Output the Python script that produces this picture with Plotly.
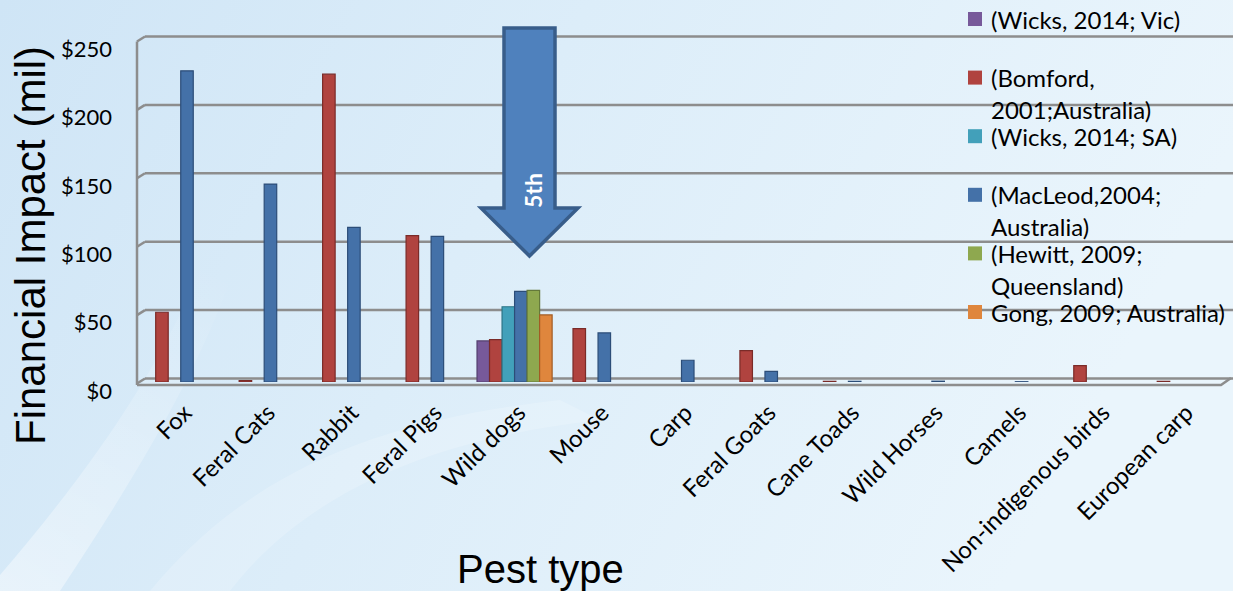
import base64
import plotly.graph_objects as go

# ---- data (millions of AUD) ----
categories = ["Fox", "Feral Cats", "Rabbit", "Feral Pigs", "Wild dogs", "Mouse", "Carp",
              "Feral Goats", "Cane Toads", "Wild Horses", "Camels", "Non-indigenous birds",
              "European carp"]
wicks_vic = [None, None, None, None, 30, None, None, None, None, None, None, None, None]
bomford = [51, 1, 225, 107, 31, 39, None, 23, 0.5, None, None, 12, 0.5]
wicks_sa = [None, None, None, None, 55, None, None, None, None, None, None, None, None]
macleod = [227.5, 144.7, 113.1, 106.5, 66.3, 35.9, 15.9, 7.8, 0.5, 0.6, 0.2, None, None]
hewitt = [None, None, None, None, 67, None, None, None, None, None, None, None, None]
gong = [None, None, None, None, 49, None, None, None, None, None, None, None, None]

series_names = [["(Wicks, 2014; Vic)"],
                ["(Bomford,", "2001;Australia)"],
                ["(Wicks, 2014; SA)"],
                ["(MacLeod,2004;", "Australia)"],
                ["(Hewitt, 2009;", "Queensland)"],
                ["Gong, 2009; Australia)"]]
series_values = [wicks_vic, bomford, wicks_sa, macleod, hewitt, gong]
series_colors = ["#77599a", "#b0433f", "#42a0ba", "#4471a8", "#8ea84f", "#df863d"]
series_edges = ["#55406f", "#7a2b28", "#2b7486", "#2c4d78", "#64793a", "#a25c24"]

y_ticks = [0, 50, 100, 150, 200, 250]
y_tick_text = ["$0", "$50", "$100", "$150", "$200", "$250"]

# ---- page geometry (pixels) ----
W, H = 1233, 591
L, R, T, B = 139, 9, 40, 209
PW, PH = W - L - R, H - T - B


def px(x):
    return (x - L) / PW


def py(y):
    return (H - B - y) / PH


fig = go.Figure()
for name, vals, col, edge in zip(series_names, series_values, series_colors, series_edges):
    fig.add_trace(go.Bar(
        x=categories, y=vals, name=" ".join(name),
        marker=dict(color=col, line=dict(color=edge, width=1.2)),
        showlegend=False,
    ))

# background: soft blue gradient with a pale swoosh
svg = f"""<svg xmlns='http://www.w3.org/2000/svg' width='{W}' height='{H}' viewBox='0 0 {W} {H}' preserveAspectRatio='none'>
<defs>
<linearGradient id='g' x1='0' y1='0' x2='1' y2='0.25'>
<stop offset='0' stop-color='#cfe5f6'/><stop offset='0.45' stop-color='#dcedf9'/><stop offset='1' stop-color='#eaf5fc'/>
</linearGradient>
<linearGradient id='s' x1='0' y1='1' x2='0.3' y2='0'>
<stop offset='0' stop-color='#ffffff' stop-opacity='0.45'/><stop offset='1' stop-color='#ffffff' stop-opacity='0'/>
</linearGradient>
</defs>
<rect width='{W}' height='{H}' fill='url(#g)'/>
<path d='M0,575 C90,470 170,360 215,230 C225,200 240,190 250,215 C220,340 140,470 60,591 L0,591 Z' fill='url(#s)'/>
<path d='M150,591 C250,470 380,420 560,400 L600,420 C420,440 300,500 230,591 Z' fill='#ffffff' opacity='0.18'/>
</svg>"""
bg_uri = "data:image/svg+xml;base64," + base64.b64encode(svg.encode()).decode()
fig.add_layout_image(dict(source=bg_uri, xref="paper", yref="paper",
                          x=px(0), y=py(0), sizex=W / PW, sizey=H / PH,
                          xanchor="left", yanchor="top", sizing="stretch", layer="below"))

shapes = []
grid_col = "#8d8d8d"
# back-wall gridlines and the small left wall
for v in y_ticks:
    yb = v / 250 + 3.5 / PH
    shapes.append(dict(type="line", xref="paper", yref="paper", x0=px(145), x1=px(1233),
                       y0=yb, y1=yb, line=dict(color=grid_col, width=2.5), layer="below"))
    shapes.append(dict(type="line", xref="paper", yref="paper", x0=px(137), x1=px(145),
                       y0=yb - 5 / PH, y1=yb, line=dict(color=grid_col, width=2.5), layer="below"))
shapes.append(dict(type="line", xref="paper", yref="paper", x0=px(137), x1=px(137),
                   y0=py(385), y1=1 + 3.5 / PH - 5 / PH, line=dict(color=grid_col, width=2.5), layer="below"))
# floor front edge
shapes.append(dict(type="path", xref="paper", yref="paper",
                   path=f"M{px(137)},{py(385)} L{px(1221)},{py(385)} L{px(1231)},{py(378)}",
                   line=dict(color=grid_col, width=2.5), layer="below"))

# "5th" call-out arrow pointing at wild dogs
arrow_pts = [(504, 28), (555, 28), (555, 208), (578, 208), (529.5, 256), (481, 208), (504, 208)]
arrow_path = "M" + " L".join(f"{px(x)},{py(y)}" for x, y in arrow_pts) + " Z"
shapes.append(dict(type="path", xref="paper", yref="paper", path=arrow_path,
                   fillcolor="#4f81bd", line=dict(color="#385d8a", width=3.5), layer="above"))

annotations = [
    dict(text="<b>5th</b>", xref="paper", yref="paper", x=px(533), y=py(191), showarrow=False,
         xanchor="center", yanchor="middle",
         textangle=-90, font=dict(family="Lato", size=23, color="white")),
    dict(text="Financial Impact (mil)", xref="paper", yref="paper", x=px(30), y=py(246),
         xanchor="center", yanchor="middle",
         showarrow=False, textangle=-90, font=dict(family="Liberation Sans", size=42, color="black")),
    dict(text="Pest type", xref="paper", yref="paper", x=px(540), y=py(569), showarrow=False,
         xanchor="center", yanchor="middle",
         font=dict(family="Liberation Sans", size=40, color="black")),
]

# legend drawn as squares and text lines
leg_y0, leg_step, line_step = 19, 58.6, 32
for i, (lines, col) in enumerate(zip(series_names, series_colors)):
    yc = leg_y0 + i * leg_step
    shapes.append(dict(type="rect", xref="paper", yref="paper", x0=px(968), x1=px(982),
                       y0=py(yc - 7), y1=py(yc + 7), fillcolor=col, line=dict(width=0), layer="above"))
    for j, txt in enumerate(lines):
        annotations.append(dict(text=txt, xref="paper", yref="paper", x=px(989),
                                y=py(yc + j * line_step), xanchor="left", yanchor="middle",
                                showarrow=False, font=dict(family="Lato", size=24, color="black")))

fig.update_layout(
    width=W, height=H,
    margin=dict(l=L, r=R, t=T, b=B),
    paper_bgcolor="#dcedf9", plot_bgcolor="rgba(0,0,0,0)",
    barmode="group", bargap=0.1, bargroupgap=0,
    shapes=shapes, annotations=annotations,
    showlegend=False,
    xaxis=dict(showgrid=False, showline=False, zeroline=False, ticks="",
               tickangle=-45, tickfont=dict(family="Lato", size=24, color="black"),
               ticklabelshift=4, ticklabelstandoff=11),
    yaxis=dict(range=[0, 250], showgrid=False, zeroline=False, showline=False, ticks="",
               tickvals=y_ticks, ticktext=y_tick_text,
               tickfont=dict(family="Lato", size=22, color="black"),
               ticklabelshift=9, ticklabelstandoff=26),
)

fig.write_html("out.html")
